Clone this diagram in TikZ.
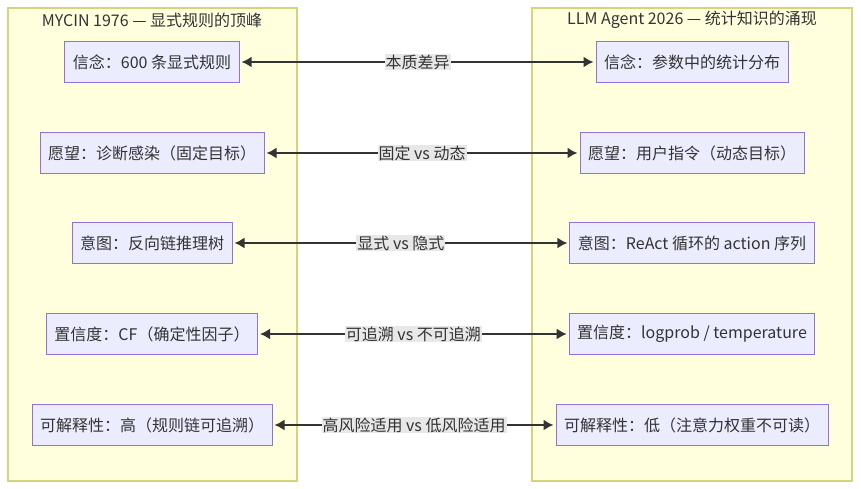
\documentclass[tikz,border=0pt]{standalone}
\usepackage{fontspec}
\setmainfont{Noto Sans CJK SC}
\usetikzlibrary{arrows.meta}
\definecolor{panelfill}{HTML}{FFFFDE}
\definecolor{paneldraw}{HTML}{D4D47A}
\definecolor{nodefill}{HTML}{ECECFF}
\definecolor{nodedraw}{HTML}{9370DB}
\definecolor{edgecol}{HTML}{333333}
\definecolor{labelbg}{HTML}{E8E8E8}
\definecolor{txt}{HTML}{333333}
\tikzset{
  panel/.style={draw=paneldraw, fill=panelfill, line width=1.2pt},
  ptitle/.style={text=txt, font=\fontsize{16}{19}\selectfont, anchor=center},
  box/.style={draw=nodedraw, fill=nodefill, line width=1pt, minimum height=41pt, inner xsep=8pt, text=txt, font=\fontsize{16}{19}\selectfont},
  conn/.style={draw=edgecol, line width=1.8pt, shorten <=2pt, shorten >=2pt, {Latex[length=10pt,width=11pt]}-{Latex[length=10pt,width=11pt]}},
  elabel/.style={fill=labelbg, text=txt, font=\fontsize{16}{19}\selectfont, inner xsep=1pt, inner ysep=1pt}
}
\begin{document}
\begin{tikzpicture}[x=1pt,y=-1pt]
\useasboundingbox (0,0) rectangle (861,489);
\fill[white] (0,0) rectangle (861,489);
\draw[panel] (8,8) rectangle (297,481);
\draw[panel] (532,8) rectangle (852,481);
\node[ptitle] (tl) at (152,20) {MYCIN 1976 — 显式规则的顶峰};
\node[ptitle] (tr) at (692,20) {LLM Agent 2026 — 统计知识的涌现};

\node[box] (l1) at (152,62) {信念：600 条显式规则};
\node[box] (l2) at (152,153) {愿望：诊断感染（固定目标）};
\node[box] (l3) at (152,243) {意图：反向链推理树};
\node[box] (l4) at (152,334) {置信度：CF（确定性因子）};
\node[box] (l5) at (152,425) {可解释性：高（规则链可追溯）};

\node[box] (r1) at (692,62) {信念：参数中的统计分布};
\node[box] (r2) at (692,153) {愿望：用户指令（动态目标）};
\node[box] (r3) at (692,243) {意图：ReAct 循环的 action 序列};
\node[box] (r4) at (692,334) {置信度：logprob / temperature};
\node[box] (r5) at (692,425) {可解释性：低（注意力权重不可读）};

\draw[conn] (l1) -- node[elabel] (e1) {本质差异} (r1);
\draw[conn] (l2) -- node[elabel] (e2) {固定 vs 动态} (r2);
\draw[conn] (l3) -- node[elabel] (e3) {显式 vs 隐式} (r3);
\draw[conn] (l4) -- node[elabel] (e4) {可追溯 vs 不可追溯} (r4);
\draw[conn] (l5) -- node[elabel] (e5) {高风险适用 vs 低风险适用} (r5);
\end{tikzpicture}
\end{document}
